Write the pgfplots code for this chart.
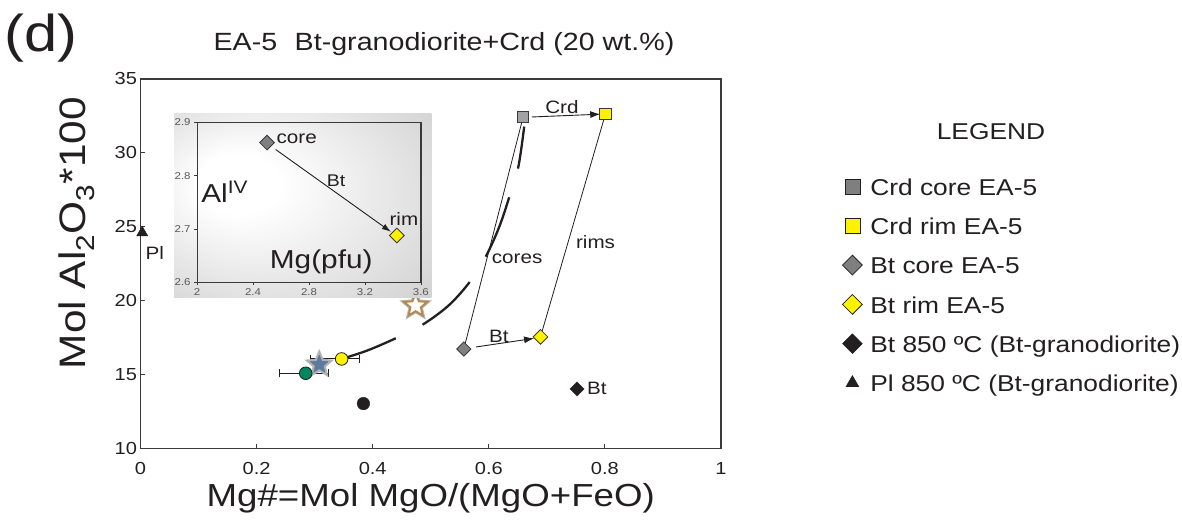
\documentclass[border=0pt]{standalone}
\usepackage{fontspec}
\setmainfont[FakeStretch=1.15]{Liberation Sans}
\usepackage{pgfplots}
\pgfplotsset{compat=1.18}
\usetikzlibrary{arrows.meta}

\definecolor{ylw}{HTML}{FFF200}
\definecolor{grsq}{HTML}{A2A2A4}
\definecolor{grdi}{HTML}{808082}
\definecolor{grlg}{HTML}{7F7F7F}
\definecolor{grn}{HTML}{00855E}
\definecolor{blu}{HTML}{5C7B9E}
\definecolor{brn}{HTML}{B5874D}
\definecolor{axc}{HTML}{3A3A3A}
\definecolor{txt}{HTML}{231F20}

\pgfdeclareplotmark{fstar}{%
  \pgfpathmoveto{\pgfpointpolar{90}{\pgfplotmarksize}}%
  \pgfpathlineto{\pgfpointpolar{126}{0.45*\pgfplotmarksize}}%
  \pgfpathlineto{\pgfpointpolar{162}{\pgfplotmarksize}}%
  \pgfpathlineto{\pgfpointpolar{198}{0.45*\pgfplotmarksize}}%
  \pgfpathlineto{\pgfpointpolar{234}{\pgfplotmarksize}}%
  \pgfpathlineto{\pgfpointpolar{270}{0.45*\pgfplotmarksize}}%
  \pgfpathlineto{\pgfpointpolar{306}{\pgfplotmarksize}}%
  \pgfpathlineto{\pgfpointpolar{342}{0.45*\pgfplotmarksize}}%
  \pgfpathlineto{\pgfpointpolar{18}{\pgfplotmarksize}}%
  \pgfpathlineto{\pgfpointpolar{54}{0.45*\pgfplotmarksize}}%
  \pgfpathclose
  \pgfusepathqfillstroke}

\pgfdeclareradialshading{insetshade}{\pgfpoint{-15bp}{7bp}}{color(0bp)=(white); color(8bp)=(white); color(50bp)=(black!24)}

\begin{document}
\begin{tikzpicture}
\useasboundingbox (0,0) rectangle (1182bp,520bp);
\node[font=\fontsize{52}{60}\selectfont, text=txt] at (41bp,482bp) {(d)};
\node[font=\fontsize{25}{29}\selectfont, text=txt] at (444bp,476bp) {EA-5\hspace{0.7em}Bt-granodiorite+Crd (20 wt.\%)};
\node[font=\fontsize{23}{27}\selectfont, text=txt] at (991bp,388bp) {LEGEND};

\begin{axis}[
  at={(140.5bp,71.5bp)}, anchor=south west, scale only axis,
  width=580.5bp, height=369.5bp,
  xmin=0, xmax=1, ymin=10, ymax=35,
  xtick={0,0.2,0.4,0.6,0.8,1}, ytick={10,15,20,25,30,35},
  tick align=inside, xtick pos=bottom, ytick pos=left,
  major tick length=4bp,
  axis line style={axc, line width=1.1bp},
  every tick/.style={axc, line width=1bp},
  tick label style={font=\fontsize{17.5}{20}\selectfont, text=txt},
  xticklabel style={yshift=-10bp},
  /pgf/number format/assume math mode=true,
  xlabel={Mg\#=Mol MgO/(MgO+FeO)},
  xlabel style={at={(axis description cs:0.5,-0.1575)}, anchor=base, font=\fontsize{32}{37}\selectfont, text=txt},
  ylabel={Mol Al\textsubscript{2}O\textsubscript{3}*100},
  ylabel style={at={(axis description cs:-0.0956,0.583)}, anchor=base, font=\fontsize{37}{42}\selectfont, text=txt},
  clip=false,
  legend style={at={(1.2093,0.742)}, anchor=north west, draw=none, fill=none,
    inner sep=0pt, outer sep=0pt, row sep=15bp,
    font=\fontsize{23}{27}\selectfont, text=txt,
    /tikz/every odd column/.append style={column sep=6bp}},
  legend cell align=left,
]
% legend images
\addlegendimage{only marks, mark=square*, mark size=7.5bp, mark options={fill=grlg, draw=txt, line width=0.8bp}}
\addlegendentry{\strut Crd core EA-5}
\addlegendimage{only marks, mark=square*, mark size=7.5bp, mark options={fill=ylw, draw=txt, line width=0.8bp}}
\addlegendentry{\strut Crd rim EA-5}
\addlegendimage{only marks, mark=square*, mark size=7bp, mark options={rotate=45, fill=grlg, draw=txt, line width=0.8bp}}
\addlegendentry{\strut Bt core EA-5}
\addlegendimage{only marks, mark=square*, mark size=7bp, mark options={rotate=45, fill=ylw, draw=txt, line width=0.8bp}}
\addlegendentry{\strut Bt rim EA-5}
\addlegendimage{only marks, mark=square*, mark size=7bp, mark options={rotate=45, fill=txt, draw=txt}}
\addlegendentry{\strut Bt 850 ºC (Bt-granodiorite)}
\addlegendimage{only marks, mark=triangle*, mark size=7.5bp, mark options={fill=txt, draw=txt}}
\addlegendentry{\strut Pl 850 ºC (Bt-granodiorite)}

% dashed curve
\addplot[forget plot, smooth, tension=0.55, line width=2.3bp, txt, dash pattern=on 64bp off 30bp, dash phase=6bp]
  coordinates {(0.3465,16.06) (0.39,16.62) (0.437,17.41) (0.484,18.33) (0.53,19.65) (0.567,21.26) (0.595,23.0) (0.618,25.0) (0.636,27.1) (0.651,29.08) (0.661,31.78)};
% thin tie lines
\addplot[forget plot, txt, line width=0.8bp] coordinates {(0.557,16.73) (0.659,32.41)};
\addplot[forget plot, txt, line width=0.8bp] coordinates {(0.689,17.55) (0.801,32.64)};
% arrows
\addplot[forget plot, txt, line width=0.9bp, -{Latex[length=10bp,width=7bp]}] coordinates {(0.674,32.43) (0.792,32.62)};
\addplot[forget plot, txt, line width=0.9bp, -{Latex[length=10bp,width=7bp]}] coordinates {(0.578,16.87) (0.678,17.45)};
% error bars
\addplot[forget plot, only marks, mark=none,
  error bars/.cd, x dir=both, x explicit, error mark=|,
  error bar style={line width=1bp, color=txt},
  error mark options={line width=1bp, mark size=4bp, color=txt}]
  coordinates {(0.2846,15.09) += (0.039,0) -= (0.0456,0)
               (0.3465,16.06) += (0.0315,0) -= (0.0545,0)};
% stars
\addplot[forget plot, only marks, mark=fstar, mark size=13bp, mark options={fill=blu, draw=black!30, line width=2bp}] coordinates {(0.308,15.68)};
\addplot[forget plot, only marks, mark=fstar, mark size=12.5bp, mark options={fill=white, draw=black!30, line width=3.5bp}] coordinates {(0.474,19.66)};
\addplot[forget plot, only marks, mark=fstar, mark size=12bp, mark options={fill=white, draw=brn, line width=1.8bp}] coordinates {(0.474,19.66)};
% circles
\addplot[forget plot, only marks, mark=*, mark size=6.3bp, mark options={fill=txt, draw=txt}] coordinates {(0.384,13.04)};
\addplot[forget plot, only marks, mark=*, mark size=6.3bp, mark options={fill=grn, draw=txt, line width=0.8bp}] coordinates {(0.2846,15.09)};
\addplot[forget plot, only marks, mark=*, mark size=6.3bp, mark options={fill=ylw, draw=txt, line width=0.8bp}] coordinates {(0.3465,16.06)};
% squares (Crd)
\addplot[forget plot, only marks, mark=square*, mark size=5.6bp, mark options={fill=grsq, draw=axc, line width=0.8bp}] coordinates {(0.659,32.41)};
\addplot[forget plot, only marks, mark=square*, mark size=5.6bp, mark options={fill=ylw, draw=axc, line width=0.8bp}] coordinates {(0.801,32.64)};
% diamonds (Bt)
\addplot[forget plot, only marks, mark=square*, mark size=5bp, mark options={rotate=45, fill=grdi, draw=axc, line width=0.8bp}] coordinates {(0.557,16.73)};
\addplot[forget plot, only marks, mark=square*, mark size=5.2bp, mark options={rotate=45, fill=ylw, draw=axc, line width=0.8bp}] coordinates {(0.689,17.55)};
\addplot[forget plot, only marks, mark=square*, mark size=5bp, mark options={rotate=45, fill=txt, draw=txt}] coordinates {(0.752,14.03)};
% Pl triangle
\addplot[forget plot, only marks, mark=triangle*, mark size=6.5bp, mark options={fill=txt, draw=txt}] coordinates {(0.003,24.6)};
% labels
\begin{scope}[every node/.style={inner sep=0pt, text=txt, font=\fontsize{18}{21}\selectfont}]
\node[anchor=base west] at (axis cs:0.697,32.68) {Crd};
\node[anchor=base west] at (axis cs:0.600,17.18) {Bt};
\node[anchor=base west] at (axis cs:0.605,22.55) {cores};
\node[anchor=base west] at (axis cs:0.750,23.56) {rims};
\node[anchor=base west] at (axis cs:0.769,13.65) {Bt};
\node[anchor=base west] at (axis cs:0.0086,22.77) {Pl};
\end{scope}
\end{axis}

% inset background
\shade[shading=insetshade] (174.2bp,222.7bp) rectangle (431.3bp,406.1bp);

\begin{axis}[
  at={(197.1bp,237.5bp)}, anchor=south west, scale only axis,
  width=223.8bp, height=160.2bp,
  xmin=2, xmax=3.6, ymin=2.6, ymax=2.9,
  xtick={2,2.4,2.8,3.2,3.6}, ytick={2.6,2.7,2.8,2.9},
  tick align=outside, xtick pos=bottom, ytick pos=left,
  major tick length=3bp,
  axis line style={axc, line width=1.2bp},
  every tick/.style={axc, line width=0.8bp},
  tick label style={font=\fontsize{10}{12}\selectfont, text=black!65},
  /pgf/number format/assume math mode=true,
  xticklabel style={/pgf/number format/.cd, fixed, precision=1},
  yticklabel style={/pgf/number format/.cd, fixed, fixed zerofill, precision=1},
  clip=false,
]
\addplot[txt, line width=0.9bp, -{Latex[length=9bp,width=6bp]}] coordinates {(2.562,2.849) (3.385,2.695)};
\addplot[only marks, mark=square*, mark size=5.2bp, mark options={rotate=45, fill=grdi, draw=axc, line width=0.8bp}] coordinates {(2.5,2.862)};
\addplot[only marks, mark=square*, mark size=5.2bp, mark options={rotate=45, fill=ylw, draw=axc, line width=0.8bp}] coordinates {(3.428,2.688)};
\begin{scope}[every node/.style={inner sep=0pt, text=txt}]
\node[anchor=base west, font=\fontsize{18}{21}\selectfont] at (axis cs:2.567,2.860) {core};
\node[anchor=base west, font=\fontsize{18}{21}\selectfont] at (axis cs:3.375,2.707) {rim};
\node[anchor=base west, font=\fontsize{17}{20}\selectfont] at (axis cs:2.926,2.779) {Bt};
\node[anchor=base west, font=\fontsize{26}{30}\selectfont] at (axis cs:2.029,2.7497) {Al\textsuperscript{IV}};
\node[anchor=base west, font=\fontsize{26}{30}\selectfont] at (axis cs:2.519,2.6265) {Mg(pfu)};
\end{scope}
\end{axis}
\end{tikzpicture}
\end{document}
